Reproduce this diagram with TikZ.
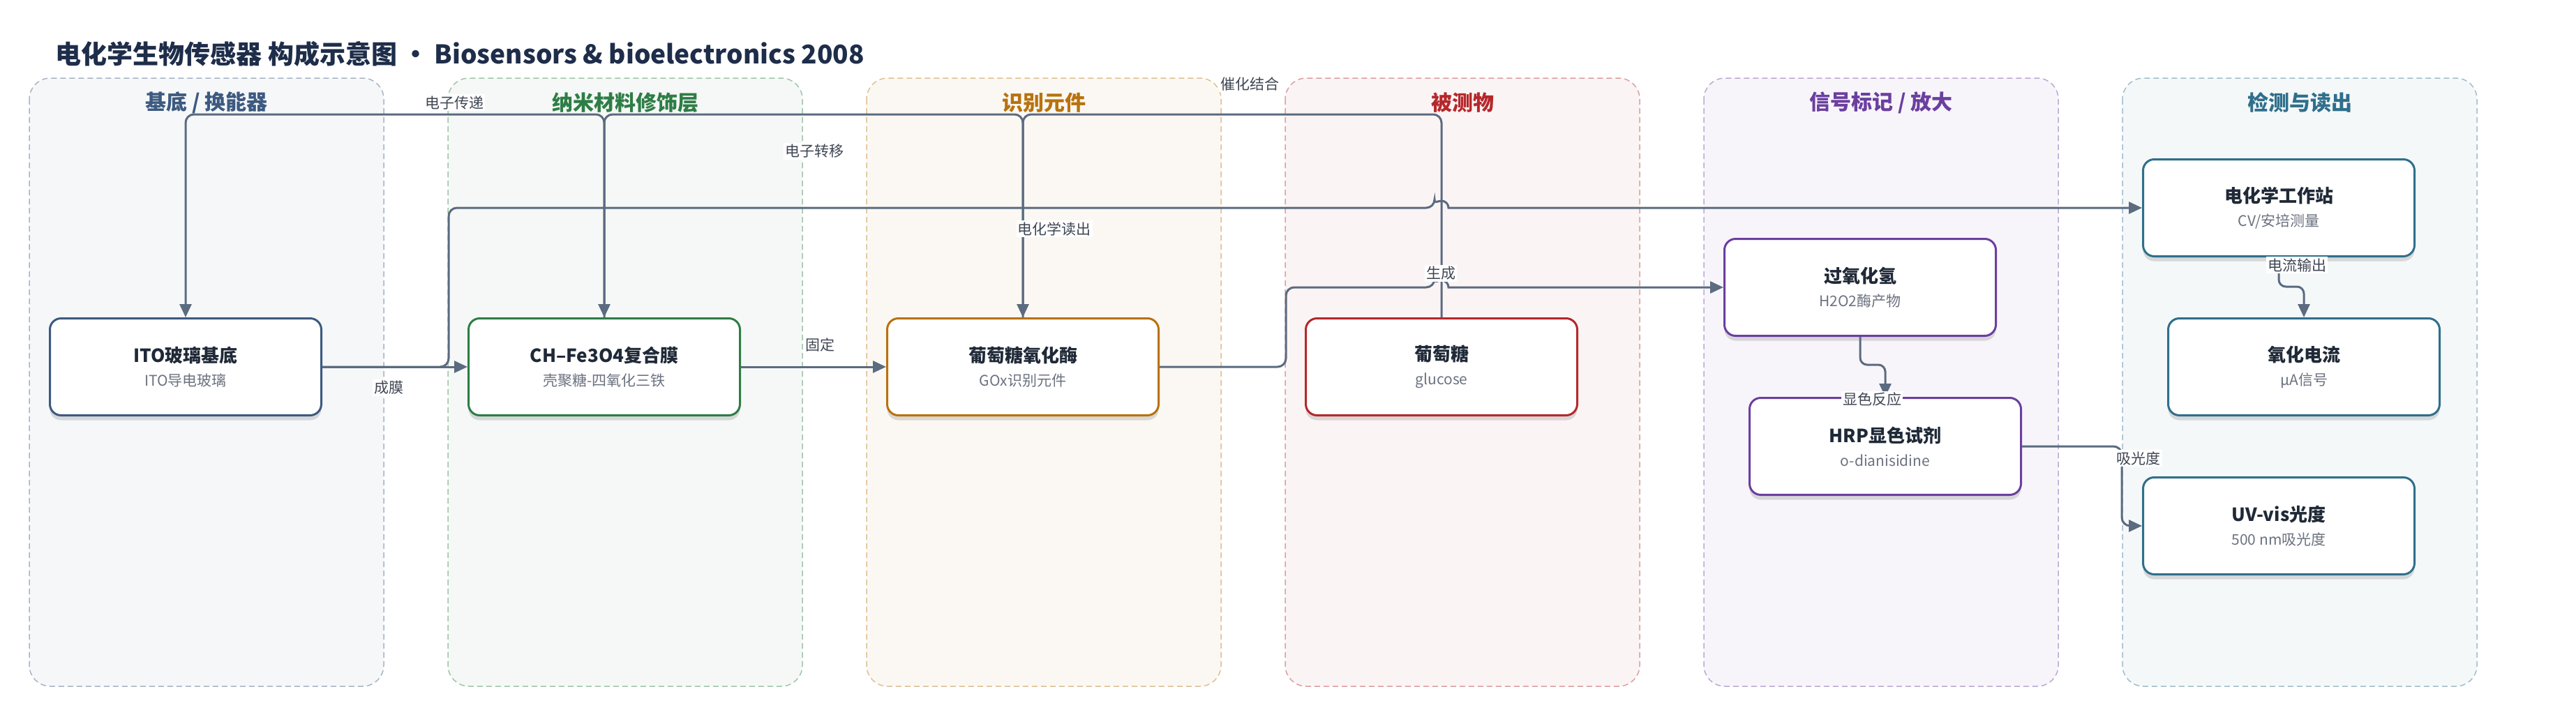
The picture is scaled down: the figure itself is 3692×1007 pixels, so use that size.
\documentclass[tikz,border=0pt]{standalone}
\usepackage{fontspec}
\setmainfont{Noto Sans CJK SC}
\usetikzlibrary{arrows.meta,shadows}

\definecolor{edgec}{HTML}{5B6B80}
\definecolor{titlec}{HTML}{1E2D4A}
\definecolor{boxtxt}{HTML}{1F2937}
\definecolor{subc}{HTML}{6B7280}
\definecolor{labc}{HTML}{3F4653}
\definecolor{cbase}{HTML}{3D5A80}
\definecolor{cnano}{HTML}{2E7D46}
\definecolor{crecog}{HTML}{B8720E}
\definecolor{canal}{HTML}{B5282B}
\definecolor{csig}{HTML}{6B3FA0}
\definecolor{cdet}{HTML}{2F6F8C}

\newcommand{\boxtext}[2]{{\fontsize{26}{34}\selectfont\bfseries\color{boxtxt}#1}\\{\color{subc}#2}}

\begin{document}
\begin{tikzpicture}[x=1pt,y=-1pt,
    lane/.style={draw=#1!45, fill=#1!5, line width=1.5pt, dash pattern=on 8pt off 5pt, rounded corners=30pt},
    lanetitle/.style={text=#1, font=\fontsize{30}{34}\selectfont\bfseries},
    box/.style={draw=#1, line width=3pt, fill=white, rounded corners=16pt, minimum width=389pt, minimum height=139pt, align=center,
        font=\fontsize{21}{34}\selectfont,
        drop shadow={shadow xshift=0pt, shadow yshift=-7pt, opacity=.13, fill=black}},
    conn/.style={draw=edgec, line width=3pt, rounded corners=12pt, -{Triangle[length=19pt,width=17pt]}},
    elabel/.style={fill=white, inner sep=2pt, text=labc, font=\fontsize{21}{24}\selectfont}]

    \fill[white] (0,0) rectangle (3692,1007);
    \useasboundingbox (0,0) rectangle (3692,1007);

    \node[anchor=west, text=titlec, font=\fontsize{37}{40}\selectfont\bfseries] (title) at (76,77) {电化学生物传感器 构成示意图 · Biosensors \& bioelectronics 2008};

    % lanes
    \foreach \name/\col/\ttl [count=\i from 0] in {base/cbase/{基底 / 换能器}, nano/cnano/{纳米材料修饰层}, recog/crecog/{识别元件},
        analyte/canal/{被测物}, signal/csig/{信号标记 / 放大}, detect/cdet/{检测与读出}}{
        \draw[lane=\col] (42+600*\i,112) rectangle ++(508,872);
        \node[lanetitle=\col] (\name) at (296+600*\i,147) {\ttl};
    }

    % boxes
    \node[box=cbase] (ito) at (266,526) {\boxtext{ITO玻璃基底}{ITO导电玻璃}};
    \node[box=cnano] (film) at (866,526) {\boxtext{CH–Fe3O4复合膜}{壳聚糖-四氧化三铁}};
    \node[box=crecog] (gox) at (1466,526) {\boxtext{葡萄糖氧化酶}{GOx识别元件}};
    \node[box=canal] (glu) at (2066,526) {\boxtext{葡萄糖}{glucose}};
    \node[box=csig] (hpo) at (2666,412) {\boxtext{过氧化氢}{H2O2酶产物}};
    \node[box=csig] (hrp) at (2702,640) {\boxtext{HRP显色试剂}{o-dianisidine}};
    \node[box=cdet] (ws) at (3266,298) {\boxtext{电化学工作站}{CV/安培测量}};
    \node[box=cdet] (cur) at (3302,526) {\boxtext{氧化电流}{μA信号}};
    \node[box=cdet] (uv) at (3266,754) {\boxtext{UV-vis光度}{500 nm吸光度}};

    % connectors
    \coordinate (bus) at (0,164);
    \draw[conn] (glu.north) -- (glu.north |- bus) -| (gox.north);
    \draw[conn] (gox.north) -- (gox.north |- bus) -| (film.north);
    \draw[conn] (film.north) -- (film.north |- bus) -| (ito.north);
    \draw[conn] (ito) -- (film);
    \draw[conn] (film) -- (gox);
    \draw[conn] (ito.east) -- ++(181,0) |- (2056,298) [sharp corners] arc[start angle=180, end angle=360, radius=10] -- (ws.west);
    \draw[conn] (gox.east) -- ++(181,0) |- (2056,412) [sharp corners] arc[start angle=180, end angle=360, radius=10] -- (hpo.west);
    \draw[conn, rounded corners=10pt] (hpo.south) -- ++(0,40) -| (hrp.north);
    \draw[conn, rounded corners=10pt] (ws.south) -- ++(0,42) -| (cur.north);
    \draw[conn] (hrp.east) -- ++(143,0) |- (uv.west);

    % labels
    \node[elabel] (l1) at (651,147) {电子传递};
    \node[elabel] (l2) at (1167,217) {电子转移};
    \node[elabel] (l3) at (1791,120) {催化结合};
    \node[elabel] (l4) at (1511,328) {电化学读出};
    \node[elabel] (l5) at (2065,392) {生成};
    \node[elabel] (l6) at (1175,494) {固定};
    \node[elabel] (l7) at (557,556) {成膜};
    \node[elabel] (l8) at (3292,380) {电流输出};
    \node[elabel] (l9) at (2683,573) {显色反应};
    \node[elabel] (l10) at (3065,657) {吸光度};
\end{tikzpicture}
\end{document}
